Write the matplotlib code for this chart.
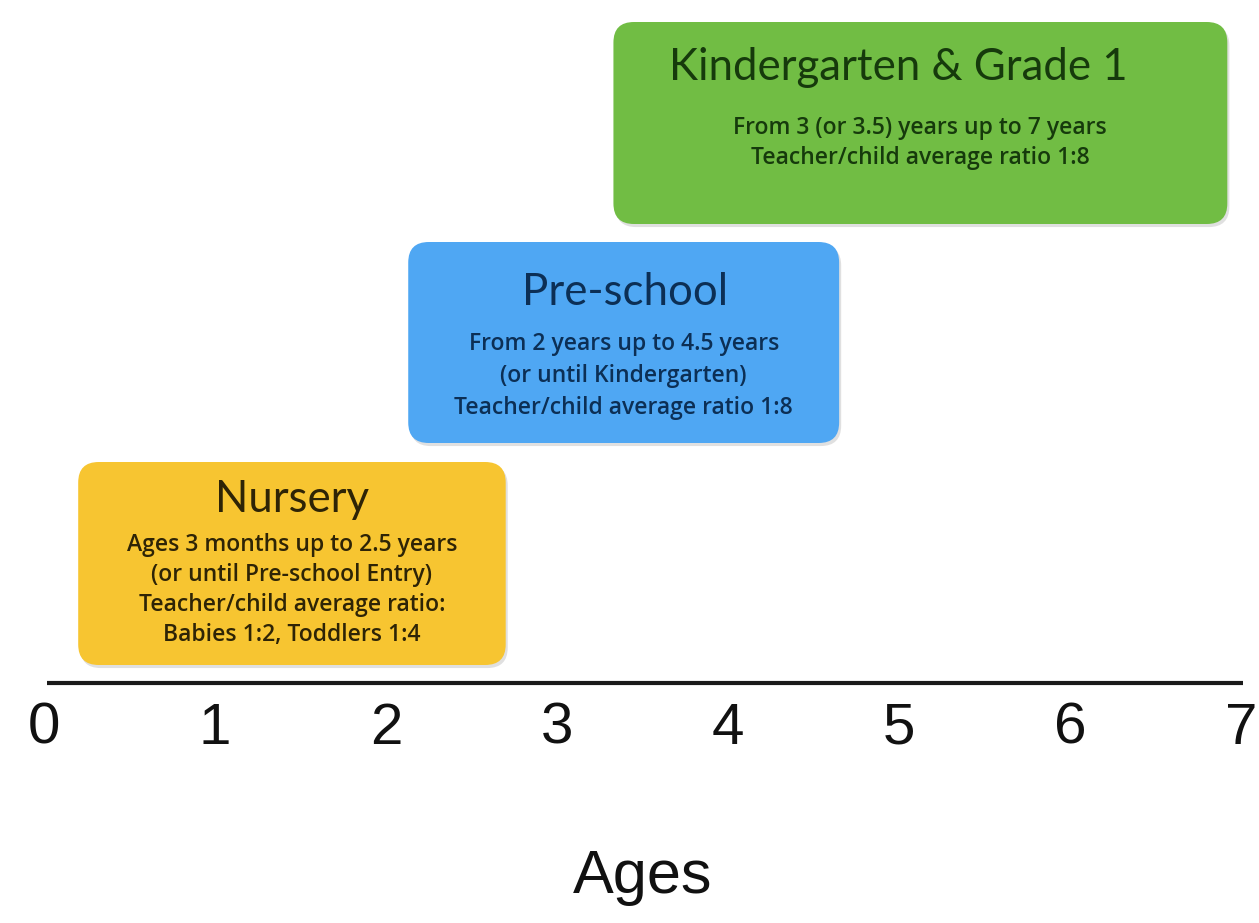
import matplotlib
matplotlib.use("Agg")
import matplotlib.pyplot as plt
from matplotlib.patches import FancyBboxPatch

# stages: start / end age drawn on the timeline
stages = ["Nursery", "Pre-school", "Kindergarten & Grade 1"]
start_age = [0.20, 2.13, 3.33]
end_age = [2.70, 4.65, 6.92]
details = [
    ["Ages 3 months up to 2.5 years", "(or until Pre-school Entry)",
     "Teacher/child average ratio:", "Babies 1:2, Toddlers 1:4"],
    ["From 2 years up to 4.5 years", "(or until Kindergarten)",
     "Teacher/child average ratio 1:8"],
    ["From 3 (or 3.5) years up to 7 years", "Teacher/child average ratio 1:8"],
]
ticks = [0, 1, 2, 3, 4, 5, 6, 7]

box_colors = ["#f7c531", "#4fa7f3", "#71bd44"]
text_colors = ["#2e2406", "#0c2f55", "#163a0c"]

X0 = 44        # pixel column of age 0
SCALE = 171.0  # pixels per year
def py(p):
    # pixel row (from top) -> data y, axis line at y=0
    return (683 - p) / SCALE

box_bottom = [py(665), py(443), py(224)]
box_top = [py(462), py(242), py(22)]
title_y = [py(499), py(293), py(68)]
title_dx = [0.0, 0.01, -0.13]
body_first = [545, 344, 128]
body_step = [30, 32, 30]

fig = plt.figure(figsize=(12.59, 9.23), dpi=100)
ax = fig.add_axes([0, 0, 1, 1])
ax.set_xlim(-X0 / SCALE, (1259 - X0) / SCALE)
ax.set_ylim(py(923), py(0))
ax.axis("off")

for i in range(len(stages)):
    w = end_age[i] - start_age[i]
    h = box_top[i] - box_bottom[i]
    shadow = FancyBboxPatch((start_age[i] + 0.012, box_bottom[i] - 0.018), w, h,
                            boxstyle="round,pad=0,rounding_size=0.12",
                            fc="#000000", ec="none", alpha=0.12, zorder=1)
    ax.add_patch(shadow)
    box = FancyBboxPatch((start_age[i], box_bottom[i]), w, h,
                         boxstyle="round,pad=0,rounding_size=0.12",
                         fc=box_colors[i], ec="none", zorder=2)
    ax.add_patch(box)
    cx = start_age[i] + w / 2
    ax.text(cx + title_dx[i], title_y[i], stages[i], ha="center", va="center",
            fontsize=31.5, family="Lato", color=text_colors[i], zorder=3)
    for j, line in enumerate(details[i]):
        ax.text(cx, py(body_first[i] + j * body_step[i]), line, ha="center",
                va="center", fontsize=16.5, family="Open Sans",
                fontweight="semibold", color=text_colors[i], zorder=3)

ax.plot([0.02, 7.01], [0, 0], color="#1a1a1a", lw=3, solid_capstyle="butt")

for t in ticks:
    ax.text(t, py(729), str(t), ha="center", va="center", fontsize=42,
            family="Liberation Sans", color="#111111")

ax.text(3.5, py(877), "Ages", ha="center", va="center", fontsize=44,
        family="Liberation Sans", color="#111111")

plt.savefig("out.png", dpi=100, facecolor="white")
